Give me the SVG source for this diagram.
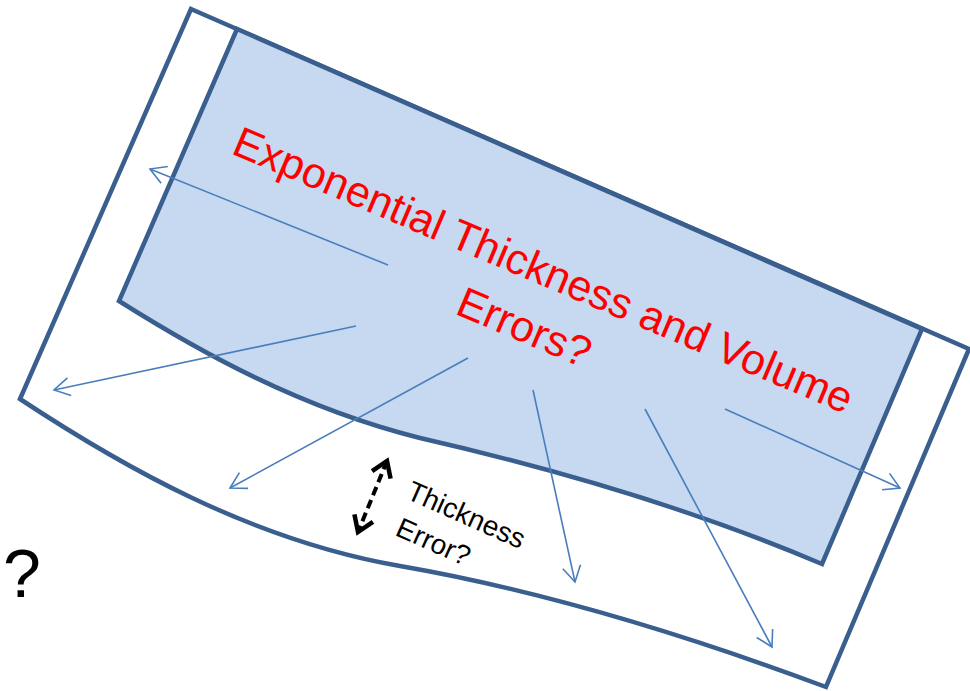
<svg xmlns="http://www.w3.org/2000/svg" width="970" height="691" viewBox="0 0 970 691">
  <style>
    .shape { stroke: #3A5F8E; stroke-width: 4.5; stroke-linejoin: miter; }
    .ray { stroke: #4A7EBB; stroke-width: 1.6; fill: none; marker-end: url(#blueHead); }
    .red { font-family: "Liberation Sans", Arial, sans-serif; font-size: 43px; fill: #FF0000; }
    .blk { font-family: "Liberation Sans", Arial, sans-serif; font-size: 28px; fill: #000000; }
  </style>
  <defs>
    <marker id="blueHead" viewBox="0 0 20 20" markerWidth="20" markerHeight="20" refX="17.6" refY="10" orient="auto" markerUnits="userSpaceOnUse">
      <path d="M2,1 L17.6,10 L2,19" fill="none" stroke="#4A7EBB" stroke-width="1.6" stroke-dasharray="none"/>
    </marker>
    <marker id="blackHead" viewBox="0 0 26 26" markerWidth="26" markerHeight="26" refX="19" refY="13" orient="auto-start-reverse" markerUnits="userSpaceOnUse">
      <path d="M4,3 L19,13 L4,23" fill="none" stroke="#000000" stroke-width="4.5" stroke-dasharray="none" stroke-linejoin="miter"/>
    </marker>
  </defs>
  <rect width="970" height="691" fill="#FFFFFF"/>

  <g id="outer-shape">
    <path class="shape" fill="#FFFFFF" d="M191,9 L969,349 L826,687 C700,640 550,592 400,566 C250,540 120,465 20,399 Z"/>
  </g>
  <g id="inner-shape">
    <path class="shape" fill="#C6D9F1" d="M237,29 L922,329 L822,564 C700,512 560,470 420,438 C300,408 200,352 119,301 Z"/>
  </g>

  <g id="connectors">
    <line class="ray" x1="388" y1="265" x2="150" y2="169"/>
    <line class="ray" x1="356" y1="326" x2="54" y2="390"/>
    <line class="ray" x1="468" y1="358" x2="230" y2="488"/>
    <line class="ray" x1="533" y1="390" x2="575" y2="582"/>
    <line class="ray" x1="645" y1="409" x2="772" y2="647"/>
    <line class="ray" x1="725" y1="409" x2="900" y2="488"/>
    <line id="thickness-arrow" x1="387" y1="461" x2="358" y2="532" stroke="#000000" stroke-width="4" stroke-dasharray="9,5" marker-start="url(#blackHead)" marker-end="url(#blackHead)"/>
  </g>

  <g id="title-label" transform="translate(230,153) rotate(23)">
    <text class="red" x="0" y="0">Exponential Thickness and Volume</text>
    <text class="red" x="339" y="60" text-anchor="middle">Errors?</text>
  </g>

  <g id="thickness-label" transform="translate(405,498) rotate(24)">
    <text class="blk" x="0" y="0">Thickness</text>
    <text class="blk" x="5" y="38">Error?</text>
  </g>

  <g id="question-mark">
    <text x="3" y="597" font-family="Liberation Sans, Arial, sans-serif" font-size="68" fill="#000000">?</text>
  </g>
</svg>
